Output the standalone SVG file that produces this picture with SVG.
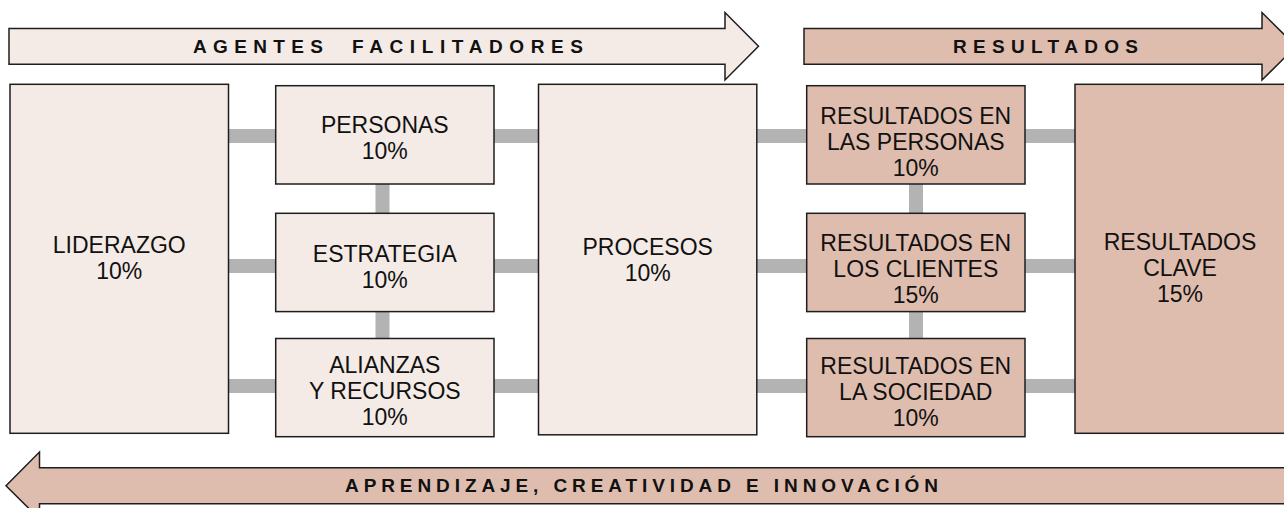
<svg xmlns="http://www.w3.org/2000/svg" width="1284" height="508" viewBox="0 0 1284 508">
<style>
.lt{fill:#f4ebe6;stroke:#1e1e1e;stroke-width:1.5}
.dk{fill:#dfbdae;stroke:#1e1e1e;stroke-width:1.5}
.cn{stroke:#b3b3b3;stroke-width:14;fill:none}
.lb{font-family:"Liberation Sans",Arial,Helvetica,sans-serif;font-size:23px;fill:#111;text-anchor:middle}
.bn{font-family:"Liberation Sans",Arial,Helvetica,sans-serif;font-size:19px;font-weight:bold;fill:#111}
</style>
<rect width="1284" height="508" fill="#ffffff"/>
<g id="banner-agentes">
<polygon class="lt" points="9,28.5 725,28.5 725,12.5 758.5,46.3 725,80 725,64.3 9,64.3"/>
<text class="bn" x="193" y="53" textLength="130" lengthAdjust="spacing">AGENTES</text>
<text class="bn" x="352" y="53" textLength="231" lengthAdjust="spacing">FACILITADORES</text>
</g>
<g id="banner-resultados">
<polygon class="dk" points="804,28.5 1262,28.5 1262,12.5 1296,46.3 1262,80 1262,64.3 804,64.3"/>
<text class="bn" x="953" y="53" textLength="185" lengthAdjust="spacing">RESULTADOS</text>
</g>
<g id="banner-aprendizaje">
<polygon class="dk" points="6,485.7 39.5,452 39.5,467.7 1300,467.7 1300,503.7 39.5,503.7 39.5,519"/>
<text class="bn" x="345" y="492" textLength="593" lengthAdjust="spacing">APRENDIZAJE, CREATIVIDAD E INNOVACIÓN</text>
</g>
<g id="connectors">
<line class="cn" x1="228" y1="136" x2="276" y2="136"/>
<line class="cn" x1="228" y1="266" x2="276" y2="266"/>
<line class="cn" x1="228" y1="386" x2="276" y2="386"/>
<line class="cn" x1="494" y1="136" x2="539" y2="136"/>
<line class="cn" x1="494" y1="266" x2="539" y2="266"/>
<line class="cn" x1="494" y1="386" x2="539" y2="386"/>
<line class="cn" x1="382.5" y1="184" x2="382.5" y2="213"/>
<line class="cn" x1="382.5" y1="311" x2="382.5" y2="339"/>
<line class="cn" x1="757" y1="136" x2="807" y2="136"/>
<line class="cn" x1="757" y1="266" x2="807" y2="266"/>
<line class="cn" x1="757" y1="386" x2="807" y2="386"/>
<line class="cn" x1="1025" y1="136" x2="1075" y2="136"/>
<line class="cn" x1="1025" y1="266" x2="1075" y2="266"/>
<line class="cn" x1="1025" y1="386" x2="1075" y2="386"/>
<line class="cn" x1="916" y1="184" x2="916" y2="213"/>
<line class="cn" x1="916" y1="311" x2="916" y2="339"/>
</g>
<g id="liderazgo">
<rect class="lt" x="10" y="84.3" width="218.5" height="349"/>
<text class="lb" x="119.3" y="253">LIDERAZGO</text>
<text class="lb" x="119.3" y="279">10%</text>
</g>
<g id="personas">
<rect class="lt" x="275.7" y="85.7" width="218.3" height="98.3"/>
<text class="lb" x="384.8" y="133">PERSONAS</text>
<text class="lb" x="384.8" y="159">10%</text>
</g>
<g id="estrategia">
<rect class="lt" x="275.7" y="213.3" width="218.3" height="98.3"/>
<text class="lb" x="384.8" y="262">ESTRATEGIA</text>
<text class="lb" x="384.8" y="288">10%</text>
</g>
<g id="alianzas">
<rect class="lt" x="275.7" y="338.5" width="218.3" height="98.2"/>
<text class="lb" x="384.8" y="372.5">ALIANZAS</text>
<text class="lb" x="384.8" y="398.5">Y RECURSOS</text>
<text class="lb" x="384.8" y="424.5">10%</text>
</g>
<g id="procesos">
<rect class="lt" x="538.5" y="84.3" width="218.3" height="350.5"/>
<text class="lb" x="647.7" y="255">PROCESOS</text>
<text class="lb" x="647.7" y="281">10%</text>
</g>
<g id="resultados-personas">
<rect class="dk" x="806.7" y="85.7" width="218.3" height="98.3"/>
<text class="lb" x="915.8" y="123.5">RESULTADOS EN</text>
<text class="lb" x="915.8" y="149.5">LAS PERSONAS</text>
<text class="lb" x="915.8" y="175.5">10%</text>
</g>
<g id="resultados-clientes">
<rect class="dk" x="806.7" y="213.3" width="218.3" height="98.3"/>
<text class="lb" x="915.8" y="251">RESULTADOS EN</text>
<text class="lb" x="915.8" y="277">LOS CLIENTES</text>
<text class="lb" x="915.8" y="303">15%</text>
</g>
<g id="resultados-sociedad">
<rect class="dk" x="806.7" y="338.5" width="218.3" height="98.2"/>
<text class="lb" x="915.8" y="374">RESULTADOS EN</text>
<text class="lb" x="915.8" y="400">LA SOCIEDAD</text>
<text class="lb" x="915.8" y="426">10%</text>
</g>
<g id="resultados-clave">
<rect class="dk" x="1075" y="84.3" width="230" height="349"/>
<text class="lb" x="1180" y="250">RESULTADOS</text>
<text class="lb" x="1180" y="276">CLAVE</text>
<text class="lb" x="1180" y="302">15%</text>
</g>
</svg>
